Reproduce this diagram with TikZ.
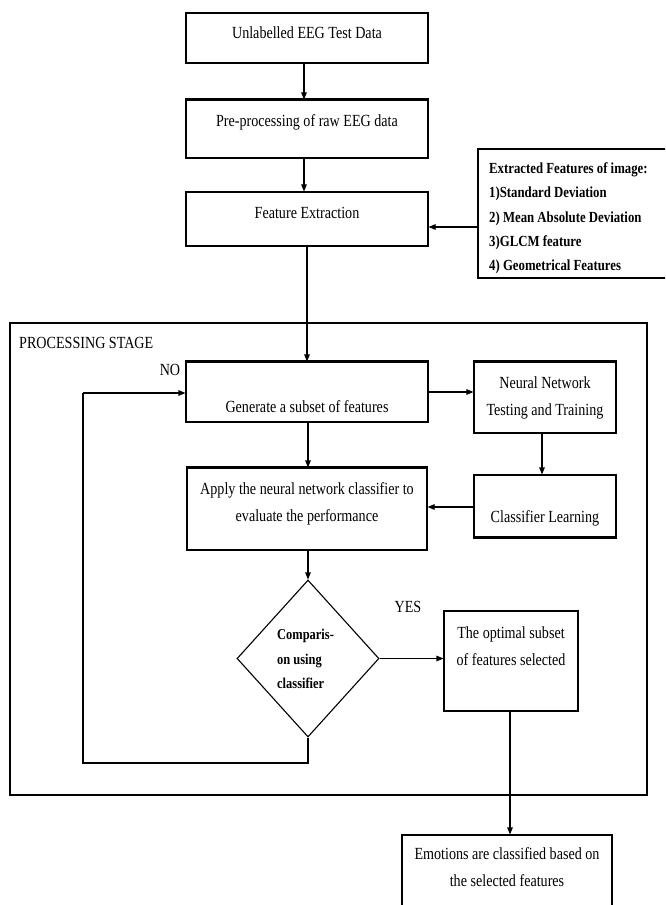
\documentclass[tikz,border=0pt]{standalone}
\usepackage{fontspec}
\setmainfont{Liberation Serif}[FakeStretch=0.83]
\usetikzlibrary{arrows.meta,shapes.geometric}
\begin{document}
\begin{tikzpicture}[x=1pt,y=-1pt,
  box/.style={draw,line width=1.1pt,inner sep=0pt},
  txt/.style={font=\fontsize{17}{27}\selectfont,align=center,inner sep=0pt},
  arr/.style={line width=1.1pt,-{Triangle[length=7pt,width=5.5pt]}},
  ln/.style={line width=1.1pt}]
\useasboundingbox (0,0) rectangle (665,905);
\clip (0,0) rectangle (665,905);
\fill[white] (0,0) rectangle (665,905);
% top boxes
\node[box,minimum width=242,minimum height=50] (b1) at (307,38) {};
\node[txt] (t1) at (307,33) {Unlabelled EEG Test Data};
\node[box,minimum width=242,minimum height=58] (b2) at (307,129) {};
\draw[line width=2.2pt] (b2.north west) -- (b2.north east);
\node[txt] (t2) at (307,122) {Pre-processing of raw EEG data};
\node[box,minimum width=242,minimum height=54] (b3) at (307,219) {};
\node[txt] (t3) at (307,213) {Feature Extraction};
\node[box,minimum width=200,minimum height=129] (b4) at (578,213.5) {};
\node[txt,font=\fontsize{15.4}{24.3}\selectfont\bfseries,align=left,anchor=west] (t4) at (489,218.5)
 {Extracted Features of image:\\1)Standard Deviation\\2) Mean Absolute Deviation\\3)GLCM feature\\4) Geometrical Features};
\draw[arr] (304,63) -- (b2.north -| 304,0);
\draw[arr] (b2.south -| 304,0) -- (b3.north -| 304,0);
\draw[arr] (b4.west |- 0,227) -- (b3.east |- 0,227);
% processing stage
\node[draw,line width=2pt,minimum width=637,minimum height=472,inner sep=0pt] (ps) at (328.5,559) {};
\node[txt,anchor=west] (pst) at (19,343) {PROCESSING STAGE};
\node[txt] (no) at (170,370) {NO};
\node[box,minimum width=242,minimum height=60] (gen) at (307,392) {};
\draw[line width=2.2pt] (gen.north west) -- (gen.north east);
\node[txt] (tg) at (307,407) {Generate a subset of features};
\node[box,minimum width=142,minimum height=71] (nn) at (545,397.5) {};
\draw[line width=2.2pt] (nn.north west) -- (nn.north east);
\node[txt] (tnn) at (545,398) {Neural Network\\Testing and Training};
\node[box,minimum width=142,minimum height=62] (cl) at (545,506) {};
\draw[line width=2.2pt] (cl.south west) -- (cl.south east);
\node[txt] (tcl) at (545,518) {Classifier Learning};
\node[box,minimum width=240,minimum height=82] (ap) at (307,509) {};
\draw[line width=2.2pt] (ap.north west) -- (ap.north east);
\node[txt] (tap) at (307,503.5) {Apply the neural network classifier to\\evaluate the performance};
\node[draw,diamond,line width=1.1pt,minimum width=142,minimum height=157,inner sep=0pt] (dm) at (308,658.5) {};
\node[txt,font=\fontsize{15}{24.5}\selectfont\bfseries,align=left,anchor=west] (tdm) at (277,659) {Comparis-\\on using\\classifier};
\node[txt] (yes) at (408,607) {YES};
\node[box,minimum width=134,minimum height=100] (op) at (511,661) {};
\node[txt] (top) at (511,646) {The optimal subset\\of features selected};
\node[box,minimum width=210,minimum height=90] (em) at (507,880) {};
\node[txt] (tem) at (507,867.5) {Emotions are classified based on\\the selected features};
% connectors
\draw[arr] (b3.south -| 307,0) -- (gen.north -| 307,0);
\draw[arr] (gen.east |- 0,392) -- (nn.west |- 0,392);
\draw[arr] (nn.south -| 542,0) -- (cl.north -| 542,0);
\draw[arr] (cl.west |- 0,507) -- (ap.east |- 0,507);
\draw[arr] (gen.south -| 308,0) -- (ap.north -| 308,0);
\draw[arr] (ap.south -| 308,0) -- (dm.north);
\draw[arr] (dm.east) -- (op.west |- dm.east);
\coordinate (l1) at (308,763);
\coordinate (l2) at (83,763);
\coordinate (l3) at (83,393);
\draw[ln] (dm.south) -- (l1) -- (l2) -- (l3);
\draw[arr] (l3) -- (gen.west |- l3);
\draw[arr] (op.south -| 510,0) -- (em.north -| 510,0);
\end{tikzpicture}
\end{document}
